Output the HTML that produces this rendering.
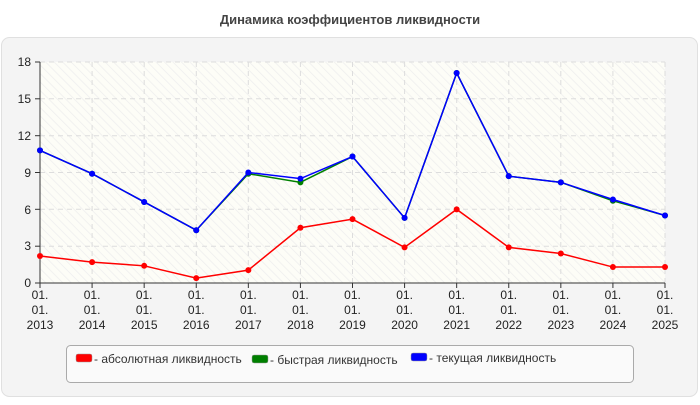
<!DOCTYPE html>
<html><head><meta charset="utf-8"><style>
body{margin:0;width:700px;height:400px;background:#fff;font-family:"Liberation Sans",sans-serif;overflow:hidden}
</style></head><body>
<svg width="700" height="400" xmlns="http://www.w3.org/2000/svg" font-family="Liberation Sans, sans-serif">
<defs>
<pattern id="h" width="6" height="6" patternUnits="userSpaceOnUse" patternTransform="rotate(-45)">
<rect width="6" height="6" fill="#fdfdf7"/><line x1="0" y1="0" x2="0" y2="6" stroke="#eeeeee" stroke-width="1.5"/>
</pattern>
</defs>
<text x="350" y="24" text-anchor="middle" font-size="13" font-weight="bold" fill="#444">Динамика коэффициентов ликвидности</text>
<rect x="1.5" y="37.5" width="696" height="359" rx="8" fill="#f4f4f4" stroke="#e0e0e0"/>
<rect x="40" y="62" width="625" height="221" fill="url(#h)"/>
<g stroke="#ddd" stroke-dasharray="5,4" stroke-width="1">
<line x1="40" y1="98.8" x2="665" y2="98.8"/><line x1="40" y1="135.7" x2="665" y2="135.7"/>
<line x1="40" y1="172.5" x2="665" y2="172.5"/><line x1="40" y1="209.3" x2="665" y2="209.3"/>
<line x1="40" y1="246.2" x2="665" y2="246.2"/>
<line x1="92.1" y1="62" x2="92.1" y2="283"/><line x1="144.2" y1="62" x2="144.2" y2="283"/>
<line x1="196.3" y1="62" x2="196.3" y2="283"/><line x1="248.3" y1="62" x2="248.3" y2="283"/>
<line x1="300.4" y1="62" x2="300.4" y2="283"/><line x1="352.5" y1="62" x2="352.5" y2="283"/>
<line x1="404.6" y1="62" x2="404.6" y2="283"/><line x1="456.7" y1="62" x2="456.7" y2="283"/>
<line x1="508.8" y1="62" x2="508.8" y2="283"/><line x1="560.8" y1="62" x2="560.8" y2="283"/>
<line x1="612.9" y1="62" x2="612.9" y2="283"/><line x1="665" y1="62" x2="665" y2="283"/>
<line x1="40" y1="62" x2="665" y2="62"/>
</g>
<g stroke="#333" stroke-width="1">
<line x1="40" y1="62" x2="40" y2="283"/><line x1="40" y1="283" x2="665" y2="283"/>
<line x1="35" y1="62" x2="40" y2="62"/><line x1="35" y1="98.8" x2="40" y2="98.8"/><line x1="35" y1="135.7" x2="40" y2="135.7"/><line x1="35" y1="172.5" x2="40" y2="172.5"/><line x1="35" y1="209.3" x2="40" y2="209.3"/><line x1="35" y1="246.2" x2="40" y2="246.2"/><line x1="35" y1="283" x2="40" y2="283"/>
</g>
<g font-size="12" fill="#222" text-anchor="end">
<text x="31" y="66">18</text><text x="31" y="103">15</text><text x="31" y="140">12</text><text x="31" y="177">9</text><text x="31" y="214">6</text><text x="31" y="250">3</text><text x="31" y="287">0</text>
</g>
<g font-size="12" fill="#222" text-anchor="middle" id="xl"></g>
<g id="ser"></g>
<rect x="66.5" y="345.5" width="567" height="37" rx="4" fill="#fafafa" stroke="#aaa"/>
<rect x="76" y="354" width="16" height="8" rx="2" fill="red" stroke="#999" stroke-width="0.5"/>
<text x="94" y="363" font-size="12" fill="#333">- абсолютная ликвидность</text>
<rect x="252" y="355" width="16" height="8" rx="2" fill="green" stroke="#999" stroke-width="0.5"/>
<text x="270" y="364" font-size="12" fill="#333">- быстрая ликвидность</text>
<rect x="411" y="353" width="16" height="8" rx="2" fill="blue" stroke="#999" stroke-width="0.5"/>
<text x="429" y="362" font-size="12" fill="#333">- текущая ликвидность</text>
</svg>
<script>
var ns="http://www.w3.org/2000/svg";
function X(i){return 40+i*52.083}function Y(v){return 283-v*221/18}
var xl=document.getElementById("xl");
for(var i=0;i<13;i++){[["01.",299],["01.",314],[String(2013+i),329]].forEach(function(a){var t=document.createElementNS(ns,"text");t.setAttribute("x",X(i));t.setAttribute("y",a[1]);t.textContent=a[0];xl.appendChild(t);});
var l=document.createElementNS(ns,"line");l.setAttribute("x1",X(i));l.setAttribute("x2",X(i));l.setAttribute("y1",283);l.setAttribute("y2",288);l.setAttribute("stroke","#333");xl.appendChild(l);}
var S=[["red",[2.2,1.7,1.4,0.4,1.05,4.5,5.2,2.9,6.0,2.9,2.4,1.3,1.3]],
["green",[10.8,8.9,6.6,4.3,8.9,8.2,10.3,5.3,17.1,8.7,8.2,6.7,5.5]],
["blue",[10.8,8.9,6.6,4.3,9.0,8.5,10.3,5.3,17.1,8.7,8.2,6.8,5.5]]];
var g=document.getElementById("ser");
S.forEach(function(s){var p=document.createElementNS(ns,"polyline");p.setAttribute("points",s[1].map(function(v,i){return X(i)+","+Y(v)}).join(" "));p.setAttribute("fill","none");p.setAttribute("stroke",s[0]);p.setAttribute("stroke-width","1.5");g.appendChild(p);
s[1].forEach(function(v,i){var c=document.createElementNS(ns,"circle");c.setAttribute("cx",X(i));c.setAttribute("cy",Y(v));c.setAttribute("r",3);c.setAttribute("fill",s[0]);g.appendChild(c);});});
</script>
</body></html>
